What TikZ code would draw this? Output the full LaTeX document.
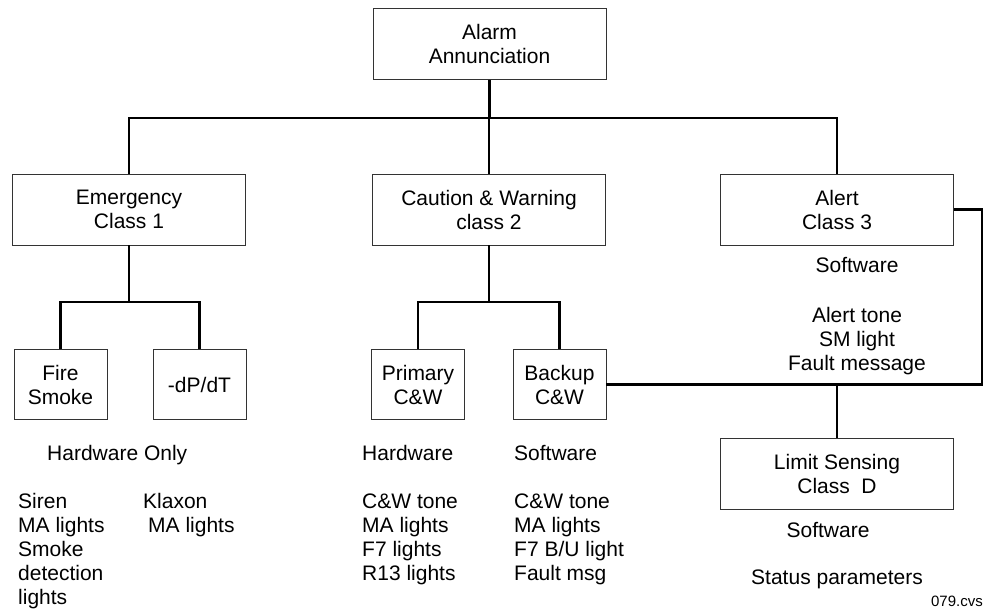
\documentclass[tikz,border=0pt]{standalone}
\usepackage{fontspec}
\setmainfont{Liberation Sans}
\usepackage{tikz}
\usetikzlibrary{calc}
\usetikzlibrary{positioning}

\begin{document}
\begin{tikzpicture}[x=1pt,y=-1pt]
  % some styles
  \tikzset{
    box/.style={
      rectangle,
      draw=black!80,
      line width=0.9pt,
      minimum width=233pt,
      minimum height=71pt,
      inner sep=0pt,
      align=center,
      font=\fontsize{21}{24}\selectfont
    }
  }
  \tikzset{smallbox/.style={box,minimum width=93pt,minimum height=70pt}}
  \tikzset{link/.style={line width=2.2pt,draw=black,line join=miter}}
  \tikzset{txt/.style={anchor=base west,inner sep=0pt,font=\fontsize{21}{24}\selectfont}}
  \tikzset{ctxt/.style={txt,anchor=base}}

\useasboundingbox (0,0) rectangle (984,609);

% boxes
\node[box] (alarm) at (489.5,44) {Alarm\\Annunciation};
\node[box] (emerg) at (129,209.5) {Emergency\\Class 1};
\node[box] (cw) at (489,209.5) {Caution \& Warning\\class 2};
\node[box] (alert) at (837,209.5) {Alert\\Class 3};
\node[smallbox] (fire) at (60.5,384.5) {Fire\\Smoke};
\node[smallbox] (dpdt) at (199.5,384.5) {-dP/dT};
\node[smallbox] (prim) at (418,384.5) {Primary\\C\&W};
\node[smallbox] (back) at (559.5,384.5) {Backup\\C\&W};
\node[box] (limit) at (837,473.5) {Limit Sensing\\Class~ D};

% bus lines
\coordinate (busA) at (0,118);
\coordinate (busB) at (0,302);
\coordinate (edge) at (982,0);

\draw[link] (alarm.south) -- (alarm.south |- busA);
\draw[link] (emerg.north) -- (emerg.north |- busA) -- (alert.north |- busA) -- (alert.north);
\draw[link] (cw.north) -- (cw.north |- busA);

\draw[link] (emerg.south) -- (emerg.south |- busB);
\draw[link] (fire.north) -- (fire.north |- busB) -- (dpdt.north |- busB) -- (dpdt.north);
\draw[link] (cw.south) -- (cw.south |- busB);
\draw[link] (prim.north) -- (prim.north |- busB) -- (back.north |- busB) -- (back.north);

\draw[link] (back.east) -| (edge |- alert.east) -- (alert.east);
\draw[link] (limit.north) -- (limit.north |- back.east);

% texts
\node[txt] (hwonly) at (47,460) {Hardware Only};
\foreach \t [count=\k from 0] in {Siren,MA lights,Smoke,detection,lights} {
    \node[txt] (emlist\k) at (18,{508+24*\k}) {\t};
}
\node[txt] (klax) at (143,508) {Klaxon};
\node[txt] (klaxma) at (148,532) {MA lights};

\node[txt] (hw) at (362,460) {Hardware};
\foreach \t [count=\k from 0] in {C\&W tone,MA lights,F7 lights,R13 lights} {
    \node[txt] (prlist\k) at (362,{508+24*\k}) {\t};
}
\node[txt] (sw) at (514,460) {Software};
\foreach \t [count=\k from 0] in {C\&W tone,MA lights,F7 B/U light,Fault msg} {
    \node[txt] (bulist\k) at (514,{508+24*\k}) {\t};
}

\node[ctxt] (alsw) at (857,273) {Software};
\foreach \t [count=\k from 0] in {Alert tone,SM light,Fault message} {
    \node[ctxt] (allist\k) at (857,{322+24*\k}) {\t};
}

\node[ctxt] (lisw) at (828,537) {Software};
\node[ctxt] (lipar) at (837,584) {Status parameters};

\node[txt,anchor=base east,font=\fontsize{15}{18}\selectfont] (fig) at (983,606) {079.cvs};

\end{tikzpicture}
\end{document}
